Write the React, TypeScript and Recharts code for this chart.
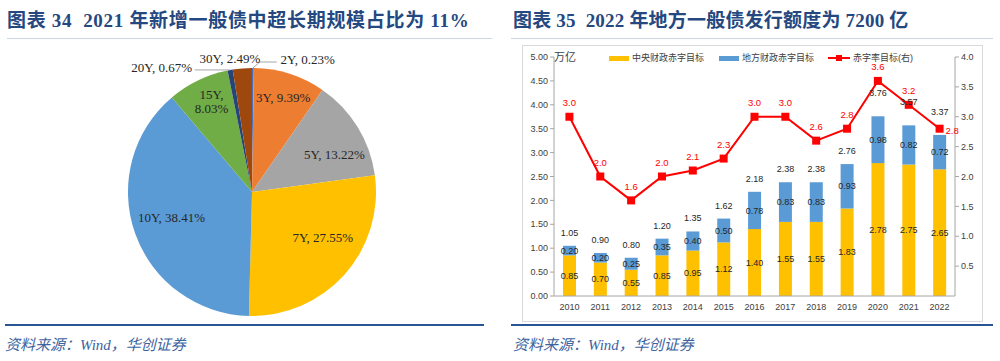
import { PieChart, Pie, Cell, ComposedChart, Bar, Line, XAxis, YAxis, LabelList } from 'recharts'

// 图表34：2021 年新增一般债期限结构
const tenors = ['2Y', '3Y', '5Y', '7Y', '10Y', '15Y', '20Y', '30Y']
const tenorShares = [0.23, 9.39, 13.22, 27.55, 38.41, 8.03, 0.67, 2.49]
const tenorColors = ['#4472C4', '#ED7D31', '#A5A5A5', '#FFC000', '#5B9BD5', '#70AD47', '#264478', '#9E480E']

// 图表35：赤字目标（万亿）与赤字率（%）
const years = ['2010', '2011', '2012', '2013', '2014', '2015', '2016', '2017', '2018', '2019', '2020', '2021', '2022']
const centralDeficit = [0.85, 0.7, 0.55, 0.85, 0.95, 1.12, 1.4, 1.55, 1.55, 1.83, 2.78, 2.75, 2.65]
const localDeficit = [0.2, 0.2, 0.25, 0.35, 0.4, 0.5, 0.78, 0.83, 0.83, 0.93, 0.98, 0.82, 0.72]
const totalDeficit = [1.05, 0.9, 0.8, 1.2, 1.35, 1.62, 2.18, 2.38, 2.38, 2.76, 3.76, 3.57, 3.37]
const deficitRate = [3.0, 2.0, 1.6, 2.0, 2.1, 2.3, 3.0, 3.0, 2.6, 2.8, 3.6, 3.2, 2.8]
const leftTicks = [0, 0.5, 1, 1.5, 2, 2.5, 3, 3.5, 4, 4.5, 5]
const rightTicks = [0.5, 1, 1.5, 2, 2.5, 3, 3.5, 4]

const pieData = tenors.map((name, i) => ({ name, value: tenorShares[i] }))
const deficitRows = years.map((year, i) => ({
  year,
  central: centralDeficit[i],
  local: localDeficit[i],
  total: totalDeficit[i],
  rate: deficitRate[i],
}))

const RAD = Math.PI / 180
const serif = '"Liberation Serif", "Noto Sans CJK SC", serif'
const sans = '"Liberation Sans", "Noto Sans CJK SC", sans-serif'
const titleColor = '#24487F'

// where Excel put each pie label: radius as share of R, turn in degrees clockwise from the slice middle
const pieLabelSpots: Record<string, { r: number; turn: number; lead?: 'right' | 'left'; split?: boolean }> = {
  '2Y': { r: 1.16, turn: 22.4, lead: 'right' },
  '3Y': { r: 0.8, turn: 0.6 },
  '5Y': { r: 0.73, turn: 7.3 },
  '7Y': { r: 0.68, turn: -8.9 },
  '10Y': { r: 0.68, turn: 2 },
  '15Y': { r: 0.8, turn: 1.7, split: true },
  '20Y': { r: 1.24, turn: -25.8, lead: 'left' },
  '30Y': { r: 1.09, turn: -4.9 },
}

function renderPieLabel(props: any) {
  const { cx, cy, midAngle, outerRadius, name, value } = props
  const spot = pieLabelSpots[name]
  const compass = 90 - midAngle
  const a = (compass + spot.turn) * RAD
  const x = cx + outerRadius * spot.r * Math.sin(a)
  const y = cy - outerRadius * spot.r * Math.cos(a)
  const text = `${name}, ${value.toFixed(2)}%`
  const common = { fontFamily: serif, fontSize: 13, fill: '#262626', textAnchor: 'middle' as const }
  let leader = null
  if (spot.lead) {
    const sx = cx + outerRadius * Math.sin(compass * RAD)
    const sy = cy - outerRadius * Math.cos(compass * RAD)
    const pts =
      spot.lead === 'right'
        ? `${sx},${sy} ${sx + 7},${sy - 6} ${x - 31},${sy - 6}`
        : `${sx},${sy} ${x + 33},${sy}`
    leader = <polyline points={pts} fill="none" stroke="#A6A6A6" strokeWidth={1} />
  }
  if (spot.split) {
    return (
      <g key={name}>
        <text {...common} x={x} y={y - 7} dominantBaseline="central">{`${name},`}</text>
        <text {...common} x={x} y={y + 7} dominantBaseline="central">{`${value.toFixed(2)}%`}</text>
      </g>
    )
  }
  return (
    <g key={name}>
      {leader}
      <text {...common} x={x} y={y} dominantBaseline="central">{text}</text>
    </g>
  )
}

function renderRateDot(props: any) {
  const { cx, cy, index, payload } = props
  const last = index === years.length - 1
  return (
    <g key={`rate-${index}`}>
      <rect x={cx - 4} y={cy - 4} width={8} height={8} fill="#FF0000" />
      <text
        x={last ? cx + 6 : cx}
        y={last ? cy + 2 : cy - 14}
        textAnchor={last ? 'start' : 'middle'}
        dominantBaseline="central"
        fontFamily={sans}
        fontSize={9.5}
        fill="#FF0000"
      >
        {payload.rate.toFixed(1)}
      </text>
    </g>
  )
}

function renderTotal(props: any) {
  const vb = props.viewBox ?? props
  const x = (props.x ?? vb.x) as number
  const y = (props.y ?? vb.y) as number
  const width = (props.width ?? vb.width) as number
  const lift = props.index >= 10 ? 23 : 13
  return (
    <text
      key={`total-${props.index}`}
      x={x + width / 2}
      y={y - lift}
      textAnchor="middle"
      dominantBaseline="central"
      fontFamily={sans}
      fontSize={9}
      fill="#262626"
    >
      {Number(props.value).toFixed(2)}
    </text>
  )
}

function Title({ left, text, spacing }: { left: number; text: string; spacing: number }) {
  return (
    <div
      style={{
        position: 'absolute',
        left,
        top: 10,
        lineHeight: '22px',
        fontFamily: serif,
        fontWeight: 'bold',
        fontSize: 19,
        letterSpacing: spacing,
        color: titleColor,
        whiteSpace: 'pre',
      }}
    >
      {text}
    </div>
  )
}

function Source({ left }: { left: number }) {
  return (
    <div
      style={{
        position: 'absolute',
        left,
        top: 335,
        lineHeight: '20px',
        fontFamily: serif,
        fontStyle: 'italic',
        fontSize: 15,
        color: '#3D63A0',
      }}
    >
      资料来源：Wind，华创证券
    </div>
  )
}

function Rule({ left, width, top, height, color }: { left: number; width: number; top: number; height: number; color: string }) {
  return <div style={{ position: 'absolute', left, width, top, height, background: color }} />
}

const tick = { fontFamily: sans, fontSize: 9, fill: '#404040' }
const labelText = { fontFamily: sans, fontSize: 9, fill: '#262626' }
const legendText = { fontFamily: sans, fontSize: 9, color: '#404040', position: 'absolute' as const, top: 51, lineHeight: '14px' }

export default function App() {
  return (
    <div style={{ position: 'absolute', left: 0, top: 0, width: 1000, height: 361, background: '#fff', overflow: 'hidden' }}>
      <Title left={7} spacing={0.7} text={'图表 34  2021 年新增一般债中超长期规模占比为 11%'} />
      <Rule left={7} width={485} top={38} height={1} color="#CCD5E2" />
      <Title left={513} spacing={0.2} text={'图表 35  2022 年地方一般债发行额度为 7200 亿'} />
      <Rule left={511} width={482} top={38} height={1} color="#CCD5E2" />

      <div style={{ position: 'absolute', left: 0, top: 0 }}>
        <PieChart width={500} height={361}>
          <Pie
            data={pieData}
            dataKey="value"
            nameKey="name"
            cx={247}
            cy={187}
            outerRadius={124}
            startAngle={90}
            endAngle={-270}
            stroke="none"
            label={renderPieLabel}
            labelLine={false}
            isAnimationActive={false}
          >
            {pieData.map((d, i) => (
              <Cell key={d.name} fill={tenorColors[i]} />
            ))}
          </Pie>
        </PieChart>
      </div>

      <div style={{ position: 'absolute', left: 522, top: 45, width: 459, height: 275, border: '1px solid #D9D9D9' }} />
      <div style={{ position: 'absolute', left: 500, top: 0 }}>
        <ComposedChart width={500} height={361} data={deficitRows} margin={{ top: 57, right: 15, bottom: 45, left: 10 }}>
          <XAxis
            dataKey="year"
            tick={tick}
            tickLine={false}
            tickSize={6}
            tickMargin={2}
            axisLine={{ stroke: '#A6A6A6' }}
            height={20}
            interval={0}
          />
          <YAxis
            yAxisId="left"
            domain={[0, 5]}
            ticks={leftTicks}
            tickFormatter={(v: number) => v.toFixed(2)}
            tick={tick}
            tickSize={4}
            tickLine={{ stroke: '#A6A6A6' }}
            axisLine={{ stroke: '#A6A6A6' }}
            width={44}
          />
          <YAxis
            yAxisId="right"
            orientation="right"
            domain={[0, 4]}
            ticks={rightTicks}
            tickFormatter={(v: number) => v.toFixed(1)}
            tick={tick}
            tickSize={4}
            tickLine={{ stroke: '#A6A6A6' }}
            axisLine={{ stroke: '#A6A6A6' }}
            width={30}
          />
          <Bar yAxisId="left" dataKey="central" stackId="deficit" fill="#FFC000" barSize={13} isAnimationActive={false}>
            <LabelList dataKey="central" position="center" formatter={(v: any) => Number(v).toFixed(2)} style={labelText} />
          </Bar>
          <Bar yAxisId="left" dataKey="local" stackId="deficit" fill="#5B9BD5" barSize={13} isAnimationActive={false}>
            <LabelList dataKey="local" position="center" formatter={(v: any) => Number(v).toFixed(2)} style={labelText} />
            <LabelList dataKey="total" content={renderTotal} />
          </Bar>
          <Line
            yAxisId="right"
            dataKey="rate"
            stroke="#FF0000"
            strokeWidth={2}
            dot={renderRateDot}
            activeDot={false}
            isAnimationActive={false}
          />
        </ComposedChart>
      </div>

      <div style={{ position: 'absolute', left: 554, top: 49, fontFamily: sans, fontSize: 11, color: '#404040', lineHeight: '16px' }}>万亿</div>
      <div style={{ position: 'absolute', left: 609, top: 56, width: 20, height: 5, background: '#FFC000' }} />
      <div style={{ ...legendText, left: 632 }}>中央财政赤字目标</div>
      <div style={{ position: 'absolute', left: 719, top: 56, width: 20, height: 5, background: '#5B9BD5' }} />
      <div style={{ ...legendText, left: 742 }}>地方财政赤字目标</div>
      <div style={{ position: 'absolute', left: 828, top: 57, width: 22, height: 2, background: '#FF0000' }} />
      <div style={{ position: 'absolute', left: 836, top: 55, width: 6, height: 6, background: '#FF0000' }} />
      <div style={{ ...legendText, left: 853 }}>赤字率目标(右)</div>

      <Rule left={5} width={479} top={324} height={2} color="#2A5595" />
      <Rule left={511} width={482} top={324} height={2} color="#2A5595" />
      <Source left={5} />
      <Source left={513} />
    </div>
  )
}
